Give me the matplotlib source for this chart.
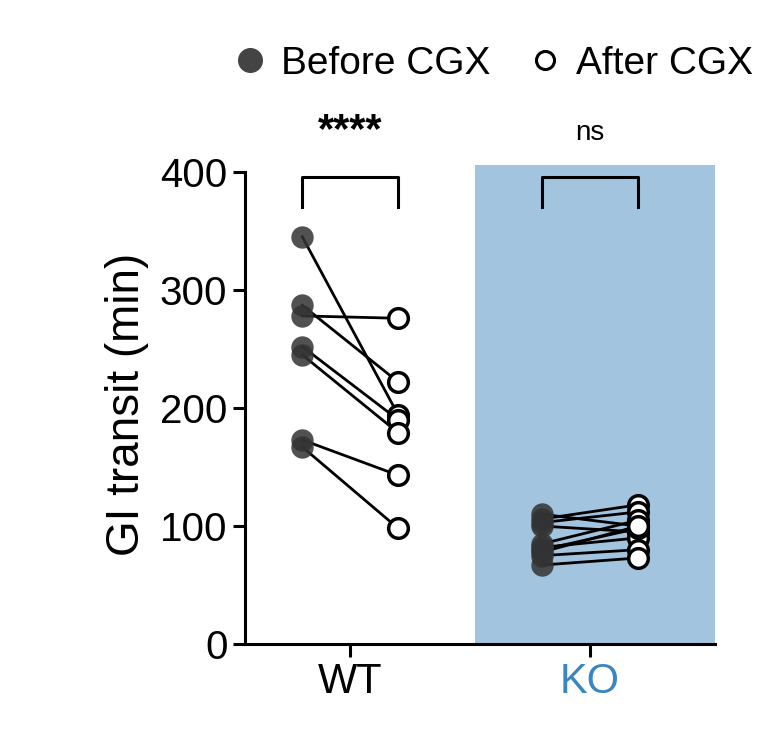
import matplotlib
matplotlib.use("Agg")
import matplotlib.pyplot as plt

plt.rcParams["font.family"] = "Liberation Sans"

categories = ["WT", "KO"]
wt_before = [345, 287, 278, 252, 245, 173, 167]
wt_after = [194, 222, 276, 190, 179, 143, 98]
ko_before = [110, 106, 103, 100, 85, 82, 80, 78, 75, 67]
ko_after = [100, 118, 112, 95, 105, 90, 98, 100, 80, 73]
yticks = [0, 100, 200, 300, 400]

fig = plt.figure(figsize=(7.77, 7.49), dpi=100)
ax = fig.add_axes([0.315, 0.140, 0.605, 0.640])
ax.set_xlim(-0.44, 1.52)
ax.set_ylim(0, 406)

ax.axvspan(0.52, 1.52, color="#a3c4df", zorder=0, lw=0)

off = 0.2
for i, (b, a) in enumerate([(wt_before, wt_after), (ko_before, ko_after)]):
    for yb, ya in zip(b, a):
        ax.plot([i - off, i + off], [yb, ya], color="black", lw=2, zorder=2)
    ax.scatter([i - off] * len(b), b, s=260, color="#333333", alpha=0.85, zorder=3, lw=0)
    ax.scatter([i + off] * len(a), a, s=200, facecolor="white", edgecolor="black", lw=2.5, zorder=4)
    # significance bracket
    ax.plot([i - off, i - off, i + off, i + off], [370, 396, 396, 370], color="black", lw=2.2, clip_on=False)

ax.text(0, 418, "****", ha="center", va="bottom", fontsize=30, fontweight="bold", clip_on=False)
ax.text(1, 422, "ns", ha="center", va="bottom", fontsize=20, clip_on=False)

ax.set_xticks([0, 1])
ax.set_xticklabels(categories, fontsize=30)
ax.get_xticklabels()[1].set_color("#3a86c0")
ax.set_yticks(yticks)
ax.set_yticklabels([str(t) for t in yticks], fontsize=29)
ax.set_ylabel("GI transit (min)", fontsize=33, labelpad=8)
ax.spines["top"].set_visible(False)
ax.spines["right"].set_visible(False)
ax.spines["left"].set_bounds(0, 400)
for s in ["left", "bottom"]:
    ax.spines[s].set_linewidth(2.2)
ax.tick_params(width=2.2, length=9)

fig.legend(handles=[
    plt.Line2D([], [], marker="o", ls="", color="#444444", markersize=17),
    plt.Line2D([], [], marker="o", ls="", markerfacecolor="white", markeredgecolor="black", markeredgewidth=2.2, markersize=13)],
    labels=["Before CGX", "After CGX"], loc="center", bbox_to_anchor=(0.62, 0.915),
    ncol=2, frameon=False, fontsize=28, handletextpad=-0.2, columnspacing=0.4)

fig.savefig("out.png", dpi=100)
